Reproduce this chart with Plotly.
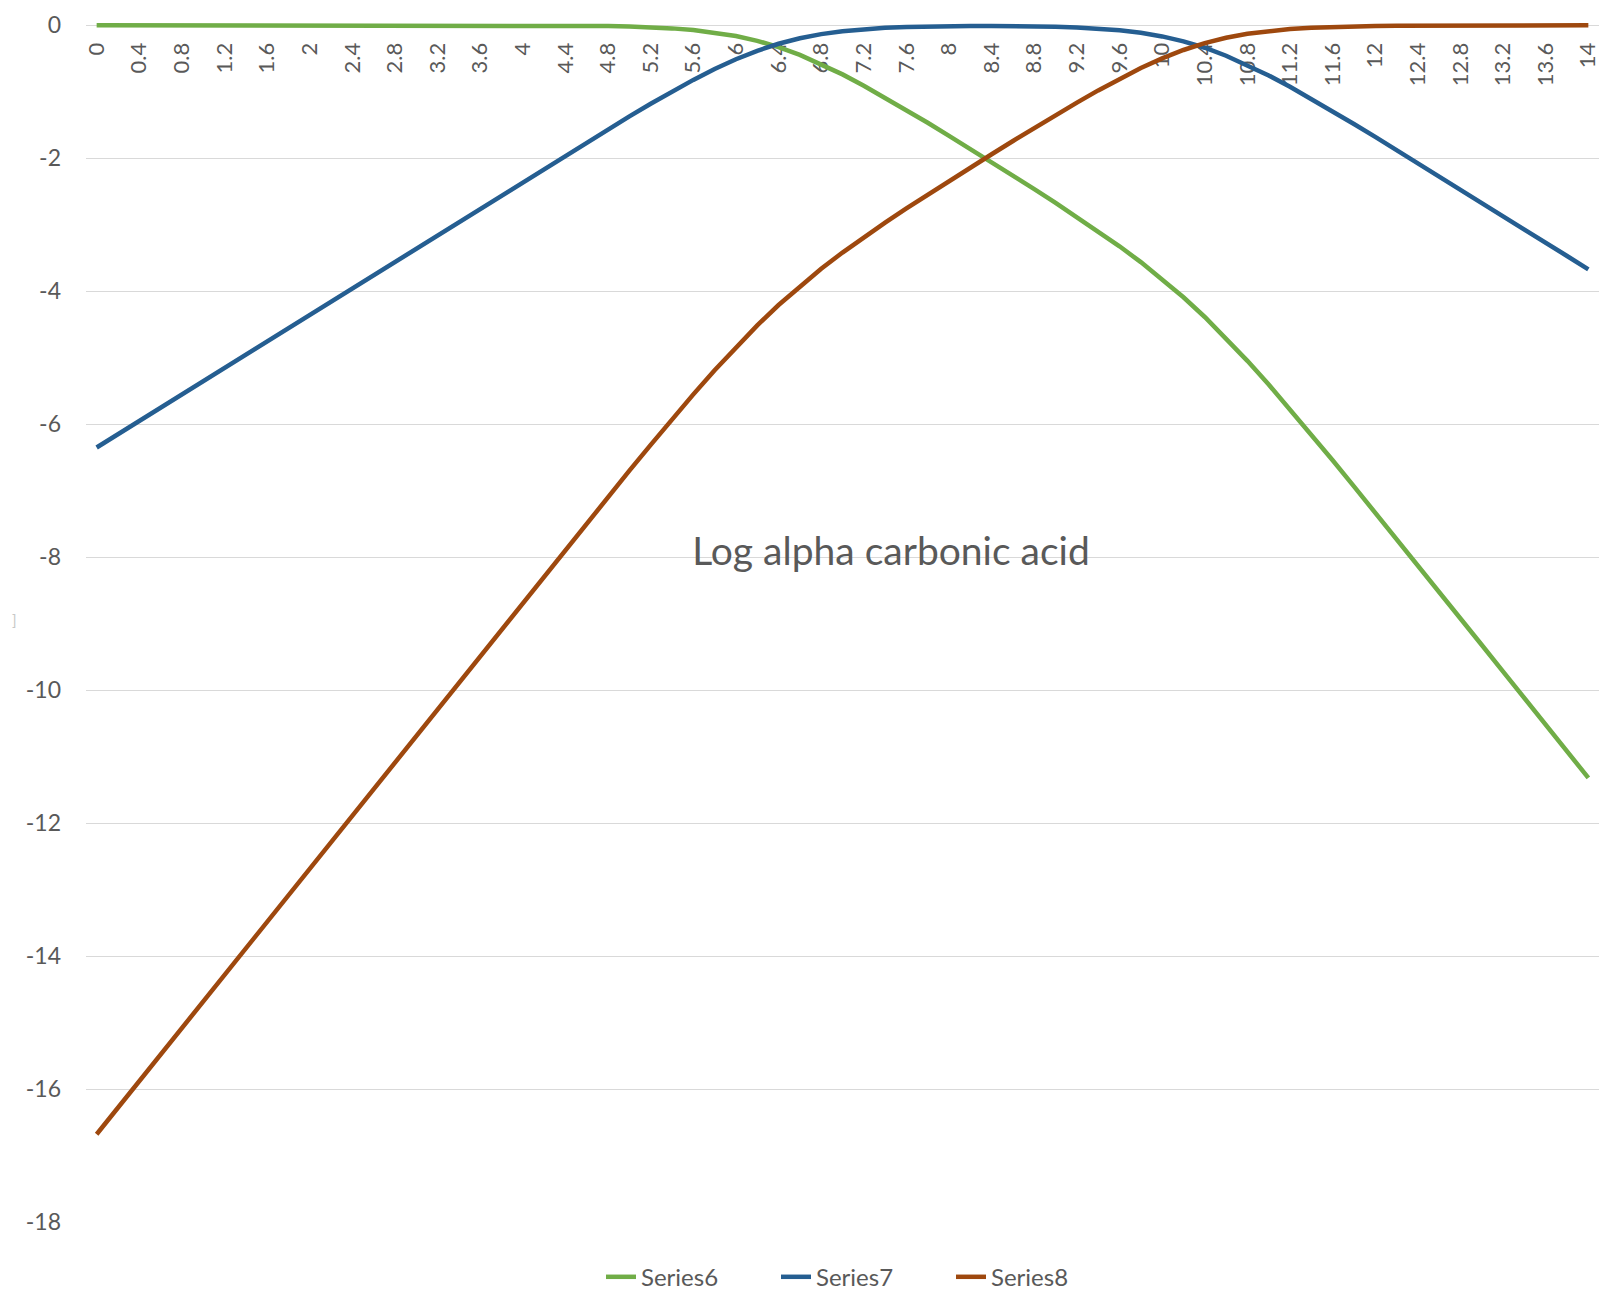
import plotly.graph_objects as go

# pH categories (one point every 0.2 units)
ph = [0.0, 0.2, 0.4, 0.6, 0.8, 1.0, 1.2, 1.4, 1.6, 1.8,
      2.0, 2.2, 2.4, 2.6, 2.8, 3.0, 3.2, 3.4, 3.6, 3.8,
      4.0, 4.2, 4.4, 4.6, 4.8, 5.0, 5.2, 5.4, 5.6, 5.8,
      6.0, 6.2, 6.4, 6.6, 6.8, 7.0, 7.2, 7.4, 7.6, 7.8,
      8.0, 8.2, 8.4, 8.6, 8.8, 9.0, 9.2, 9.4, 9.6, 9.8,
      10.0, 10.2, 10.4, 10.6, 10.8, 11.0, 11.2, 11.4, 11.6, 11.8,
      12.0, 12.2, 12.4, 12.6, 12.8, 13.0, 13.2, 13.4, 13.6, 13.8,
      14.0]

# log alpha H2CO3
series6 = [0.0, 0.0, 0.0, 0.0, 0.0, 0.0, 0.0, 0.0, 0.0, 0.0,
           0.0, 0.0, 0.0, 0.0, 0.0, 0.0, 0.0, 0.0, -0.001, -0.001,
           -0.002, -0.003, -0.005, -0.008, -0.012, -0.019, -0.030, -0.046, -0.071, -0.108,
           -0.160, -0.233, -0.327, -0.444, -0.582, -0.738, -0.908, -1.088, -1.275, -1.466,
           -1.662, -1.859, -2.059, -2.260, -2.464, -2.671, -2.882, -3.099, -3.324, -3.562,
           -3.817, -4.091, -4.387, -4.707, -5.047, -5.404, -5.775, -6.156, -6.543, -6.935,
           -7.329, -7.726, -8.124, -8.522, -8.921, -9.321, -9.721, -10.120, -10.520, -10.920,
           -11.320]

# log alpha HCO3-
series7 = [-6.35, -6.15, -5.95, -5.75, -5.55, -5.35, -5.15, -4.95, -4.75, -4.55,
           -4.35, -4.15, -3.95, -3.75, -3.55, -3.35, -3.15, -2.95, -2.751, -2.551,
           -2.352, -2.153, -1.955, -1.758, -1.562, -1.369, -1.180, -0.996, -0.821, -0.658,
           -0.510, -0.383, -0.277, -0.194, -0.132, -0.088, -0.058, -0.038, -0.025, -0.016,
           -0.012, -0.009, -0.009, -0.010, -0.014, -0.021, -0.032, -0.049, -0.074, -0.112,
           -0.167, -0.241, -0.337, -0.457, -0.597, -0.754, -0.925, -1.106, -1.293, -1.485,
           -1.679, -1.876, -2.074, -2.272, -2.471, -2.671, -2.871, -3.070, -3.270, -3.470,
           -3.670]

# log alpha CO3 2-
series8 = [-16.68, -16.28, -15.88, -15.48, -15.08, -14.68, -14.28, -13.88, -13.48, -13.08,
           -12.68, -12.28, -11.88, -11.48, -11.08, -10.68, -10.28, -9.88, -9.481, -9.081,
           -8.682, -8.283, -7.885, -7.488, -7.092, -6.699, -6.310, -5.926, -5.551, -5.188,
           -4.840, -4.513, -4.207, -3.924, -3.662, -3.418, -3.188, -2.968, -2.755, -2.546,
           -2.342, -2.139, -1.939, -1.740, -1.544, -1.351, -1.162, -0.979, -0.804, -0.642,
           -0.497, -0.371, -0.267, -0.187, -0.127, -0.084, -0.055, -0.036, -0.023, -0.015,
           -0.009, -0.006, -0.004, -0.002, -0.001, -0.001, -0.001, 0.0, 0.0, 0.0,
           0.0]

x_tick_vals = [0, 0.4, 0.8, 1.2, 1.6, 2, 2.4, 2.8, 3.2, 3.6, 4, 4.4, 4.8, 5.2, 5.6, 6,
               6.4, 6.8, 7.2, 7.6, 8, 8.4, 8.8, 9.2, 9.6, 10, 10.4, 10.8, 11.2, 11.6,
               12, 12.4, 12.8, 13.2, 13.6, 14]
x_tick_text = ["0", "0.4", "0.8", "1.2", "1.6", "2", "2.4", "2.8", "3.2", "3.6", "4",
               "4.4", "4.8", "5.2", "5.6", "6", "6.4", "6.8", "7.2", "7.6", "8", "8.4",
               "8.8", "9.2", "9.6", "10", "10.4", "10.8", "11.2", "11.6", "12", "12.4",
               "12.8", "13.2", "13.6", "14"]
y_tick_vals = [0, -2, -4, -6, -8, -10, -12, -14, -16, -18]
y_tick_text = ["0", "-2", "-4", "-6", "-8", "-10", "-12", "-14", "-16", "-18"]

names = ["Series6", "Series7", "Series8"]
colors = ["#70AD47", "#255E91", "#9E480E"]

FONT = "Lato, 'Open Sans', sans-serif"
GREY = "#595959"

Y_TOP = 0.05  # small headroom so lines sitting on 0 are not clipped

fig = go.Figure()
for name, ys, col in zip(names, [series6, series7, series8], colors):
    fig.add_trace(go.Scatter(
        x=ph, y=ys, name=name, mode="lines",
        line=dict(color=col, width=4.5, shape="linear"),
    ))

fig.update_layout(
    width=1605, height=1297,
    margin=dict(l=86, r=6, t=22, b=75, autoexpand=False),
    paper_bgcolor="white", plot_bgcolor="white",
    font=dict(family=FONT, color=GREY, size=22),
    title=dict(
        text="Log alpha carbonic acid",
        x=891 / 1605, y=1 - 551 / 1297,
        xref="container", yref="container",
        xanchor="center", yanchor="middle",
        font=dict(family=FONT, size=39, color=GREY),
    ),
    showlegend=True,
    legend=dict(
        orientation="h",
        x=(601 - 86) / 1513, xanchor="left",
        y=-0.046, yanchor="middle",
        font=dict(family=FONT, size=24, color=GREY),
        entrywidth=130, entrywidthmode="pixels",
        bgcolor="rgba(0,0,0,0)",
    ),
    xaxis=dict(
        range=[-0.1, 14.1],
        side="bottom",
        anchor="free",
        position=1 - (Y_TOP / 18.05),
        tickmode="array",
        tickvals=x_tick_vals,
        ticktext=x_tick_text,
        tickangle=-90,
        ticks="",
        ticklabelstandoff=12,
        showgrid=False,
        zeroline=False,
        showline=False,
        layer="below traces",
        tickfont=dict(family=FONT, size=22, color=GREY),
    ),
    yaxis=dict(
        range=[-18, Y_TOP],
        tickmode="array",
        tickvals=y_tick_vals,
        ticktext=y_tick_text,
        ticks="",
        ticklabelstandoff=24,
        showgrid=True,
        gridcolor="#D9D9D9",
        gridwidth=1.3,
        zeroline=False,
        showline=False,
        layer="below traces",
        tickfont=dict(family=FONT, size=23, color=GREY),
    ),
)

# faint clipped glyph at the left edge of the chart area
fig.add_annotation(
    text="]", x=-0.0502, y=0.5014, xref="paper", yref="paper",
    showarrow=False, font=dict(family=FONT, size=15, color="#C8C8C8"),
)

fig.write_html("out.html")
